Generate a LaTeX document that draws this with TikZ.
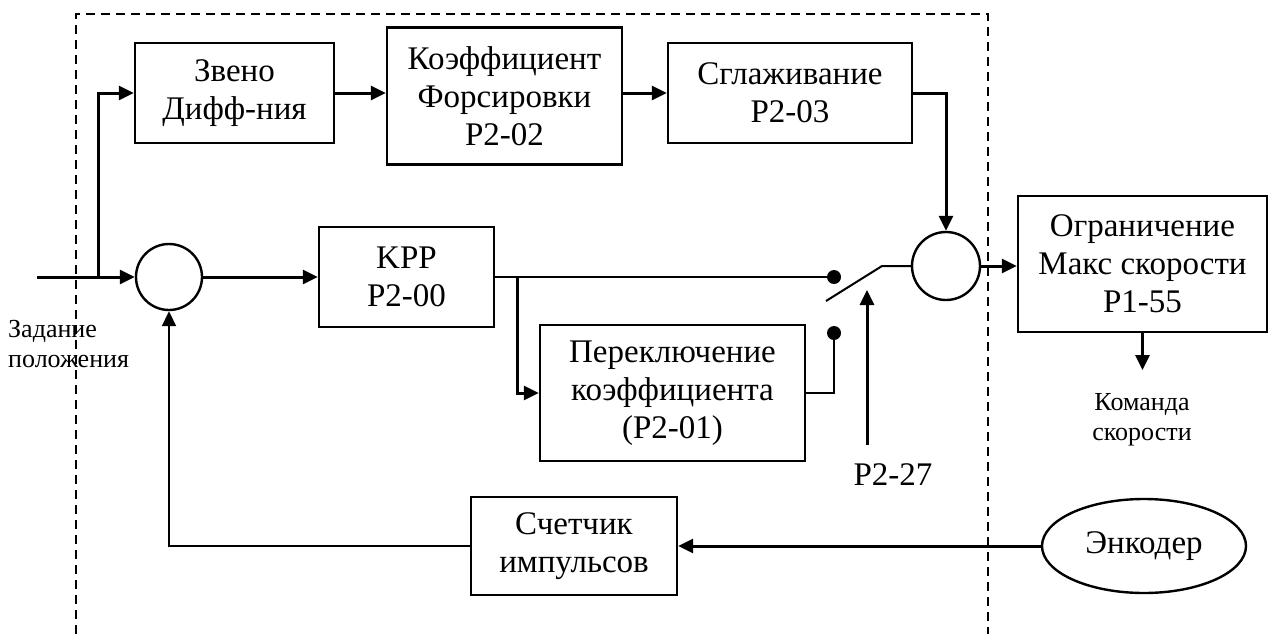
\documentclass[tikz,border=0pt]{standalone}
\usepackage{fontspec}
\setmainfont{Liberation Serif}
\usetikzlibrary{arrows.meta,shapes.geometric}
\tikzset{
  blk/.style={draw, line width=2.4pt, rectangle, inner sep=0pt, align=center, font=\fontsize{33}{38}\selectfont},
  sumc/.style={draw, line width=2.4pt, circle, inner sep=0pt, minimum size=#1},
  tip/.tip={Triangle[length=15pt,width=14pt]},
  arr/.style={line width=3pt, -tip},
  ln/.style={line width=2pt},
  frame/.style={line width=1.8pt, dash pattern=on 9pt off 6pt},
  contact/.style={circle, fill=black, inner sep=0pt, minimum size=14pt},
  lbl/.style={inner sep=0pt, align=center, font=\fontsize{33}{38}\selectfont},
  small/.style={inner sep=0pt, font=\fontsize{26}{30}\selectfont}
}
\begin{document}
\begin{tikzpicture}[x=1pt,y=-1pt]
\useasboundingbox (0,0) rectangle (1269,634);
% dashed frame
\draw[frame] (76,634) -- (76,14) -- (988,14) -- (988,634);
% blocks
\node[blk, minimum width=199pt, minimum height=100pt] (zv) at (234.5,93) {Звено\\Дифф-ния};
\node[blk, minimum width=235pt, minimum height=137pt] (kf) at (504.5,96) {Коэффициент\\Форсировки\\P2-02};
\node[blk, minimum width=244pt, minimum height=100pt] (sg) at (790,93) {Сглаживание\\P2-03};
\node[blk, minimum width=175pt, minimum height=100pt] (kpp) at (406.5,277) {KPP\\P2-00};
\node[blk, minimum width=265pt, minimum height=136pt] (per) at (672.5,393) {Переключение\\коэффициента\\(P2-01)};
\node[blk, minimum width=206pt, minimum height=98pt] (sch) at (574,546) {Счетчик\\импульсов};
\node[blk, minimum width=249pt, minimum height=136pt] (ogr) at (1142.5,264) {Ограничение\\Макс скорости\\P1-55};
\node[blk, ellipse, minimum width=204pt, minimum height=94pt] (enc) at (1144,546) {Энкодер};
\node[sumc=66pt] (c1) at (169,277) {};
\node[sumc=68pt] (c2) at (946,266) {};
% switch
\node[contact] (d1) at (834,277) {};
\node[contact] (d2) at (834,333) {};
\coordinate (bladeA) at (826,301);
\coordinate (bladeB) at (882,266);
% free ends
\coordinate (in) at (37,277);
\coordinate (br) at (98,277);
\coordinate (br2) at (517,277);
\coordinate (p27) at (867,445);
\coordinate (p27t) at (867,290);
\coordinate (cmd) at (1142.5,370);
% labels
\node[lbl] (lp27) at (893,475) {P2-27};
\node[small, align=left, anchor=north west] (zad) at (8,320) {Задание\\положения};
\node[small, align=center] (kom) at (1142,420) {Команда\\скорости};
% connectors
\draw[arr] (in) -- (c1.west);
\draw[arr] (br) |- (zv.west);
\draw[arr] (zv.east) -- (zv.east -| kf.west);
\draw[arr] (kf.east |- sg.west) -- (sg.west);
\draw[arr] (sg.east) -| (c2.north);
\draw[arr] (c1.east) -- (kpp.west);
\draw[ln] (kpp.east) -- (d1.center);
\draw[arr] (br2) |- (per.west);
\draw[ln] (per.east) -| (d2.center);
\draw[ln] (bladeA) -- (bladeB) -- (c2.west);
\draw[arr] (p27) -- (p27t);
\draw[arr] (c2.east) -- (c2.east -| ogr.west);
\draw[arr] (ogr.south) -- (cmd);
\draw[arr] (enc.west) -- (enc.west -| sch.east);
\draw[ln, -tip] (sch.west) -| (c1.south);
\end{tikzpicture}
\end{document}
